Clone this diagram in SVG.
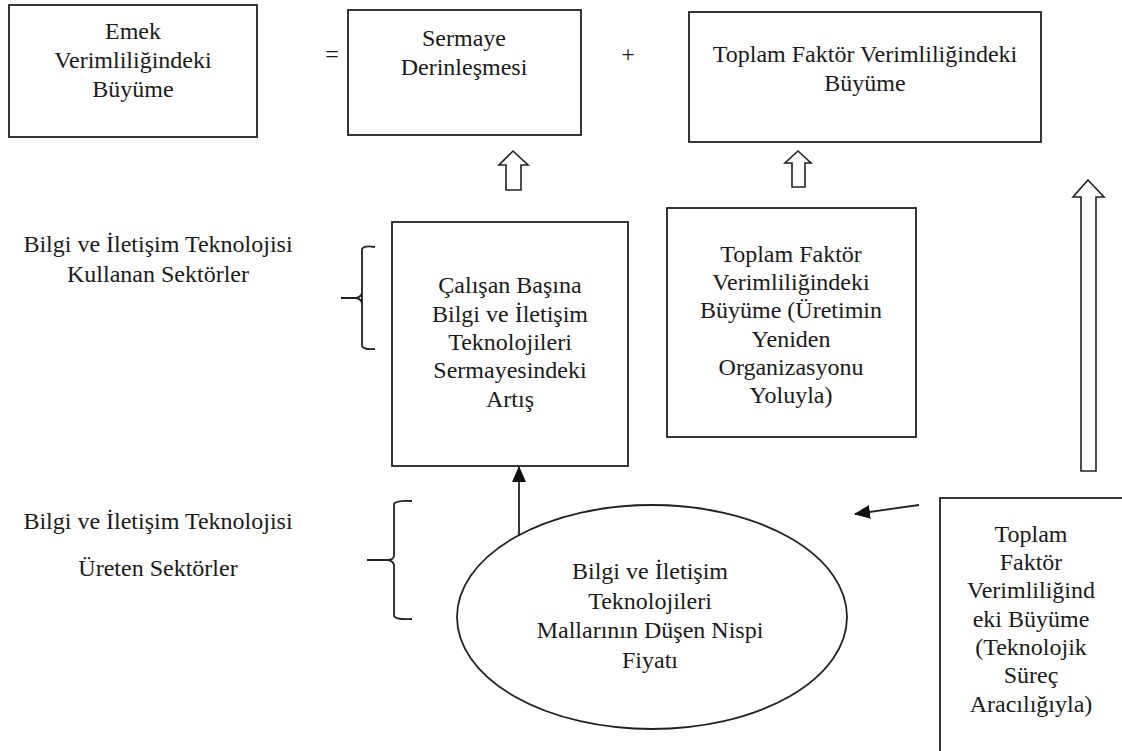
<svg xmlns="http://www.w3.org/2000/svg" width="1122" height="751" viewBox="0 0 1122 751">
<style>
.box{fill:#fff;stroke:#222;stroke-width:1.8}
.t{font-family:"Liberation Serif","Times New Roman",serif;font-size:24px;fill:#1a1a1a;text-anchor:middle}
.ln{fill:none;stroke:#222;stroke-width:1.8}
.hollow{fill:#fff;stroke:#222;stroke-width:1.6;stroke-linejoin:miter}
</style>
<defs>
<marker id="ah2" markerWidth="16" markerHeight="14" refX="15" refY="7" orient="auto" markerUnits="userSpaceOnUse">
<path d="M0,0 L16,7 L0,14 Z" fill="#111"/>
</marker>
</defs>
<rect width="1122" height="751" fill="#fff"/>

<g id="n-emek">
<rect class="box" x="9" y="5" width="248" height="132"/>
<text class="t" x="133" y="39">Emek</text>
<text class="t" x="133" y="68">Verimliliğindeki</text>
<text class="t" x="133" y="97">Büyüme</text>
</g>

<g id="eq"><text class="t" x="332" y="62">=</text></g>

<g id="n-sermaye">
<rect class="box" x="348" y="10" width="233" height="125"/>
<text class="t" x="464" y="46">Sermaye</text>
<text class="t" x="464" y="75">Derinleşmesi</text>
</g>

<g id="plus"><text class="t" x="628" y="62">+</text></g>

<g id="n-tfv">
<rect class="box" x="689" y="12" width="352" height="130"/>
<text class="t" x="865" y="62">Toplam Faktör Verimliliğindeki</text>
<text class="t" x="865" y="91">Büyüme</text>
</g>

<g id="n-kullanan">
<text class="t" x="158" y="252">Bilgi ve İletişim Teknolojisi</text>
<text class="t" x="158" y="282">Kullanan Sektörler</text>
<path class="ln" d="M375,247 Q364,245 362,249 L362,346 Q364,350 375,349 M341,298 L356,298 Q361,297 362,293 M356,298 Q361,299 362,303"/>
</g>

<g id="n-calisan">
<rect class="box" x="392" y="222" width="236" height="244"/>
<text class="t" x="510" y="293">Çalışan Başına</text>
<text class="t" x="510" y="322">Bilgi ve İletişim</text>
<text class="t" x="510" y="350">Teknolojileri</text>
<text class="t" x="510" y="378">Sermayesindeki</text>
<text class="t" x="510" y="407">Artış</text>
</g>

<g id="n-tfv-org">
<rect class="box" x="667" y="208" width="249" height="229"/>
<text class="t" x="791" y="262">Toplam Faktör</text>
<text class="t" x="791" y="290">Verimliliğindeki</text>
<text class="t" x="791" y="318">Büyüme (Üretimin</text>
<text class="t" x="791" y="347">Yeniden</text>
<text class="t" x="791" y="375">Organizasyonu</text>
<text class="t" x="791" y="403">Yoluyla)</text>
</g>

<g id="n-ureten">
<text class="t" x="158" y="529">Bilgi ve İletişim Teknolojisi</text>
<text class="t" x="158" y="576">Üreten Sektörler</text>
<path class="ln" d="M412,501 Q396,500 394,504 L394,556 Q393,560 388,560 L367,560 M388,560 Q393,561 394,565 L394,616 Q396,620 412,619"/>
</g>

<g id="n-fiyat">
<ellipse class="box" cx="652" cy="617" rx="195" ry="112"/>
<text class="t" x="650" y="579">Bilgi ve İletişim</text>
<text class="t" x="650" y="609">Teknolojileri</text>
<text class="t" x="650" y="638">Mallarının Düşen Nispi</text>
<text class="t" x="650" y="668">Fiyatı</text>
</g>

<g id="n-tfv-tek">
<rect class="box" x="940" y="498" width="200" height="300"/>
<text class="t" x="1031" y="542">Toplam</text>
<text class="t" x="1031" y="570">Faktör</text>
<text class="t" x="1031" y="598">Verimliliğind</text>
<text class="t" x="1031" y="627">eki Büyüme</text>
<text class="t" x="1031" y="655">(Teknolojik</text>
<text class="t" x="1031" y="683">Süreç</text>
<text class="t" x="1031" y="712">Aracılığıyla)</text>
</g>

<g id="connectors">
<polygon class="hollow" points="513,151 528,165 521,165 521,190 506,190 506,165 499,165"/>
<polygon class="hollow" points="798,151 811,163 805,163 805,187 792,187 792,163 785,163"/>
<polygon class="hollow" points="1088,180 1104,197 1096,197 1096,471 1081,471 1081,197 1073,197"/>
<line class="ln" x1="519" y1="536" x2="519" y2="467" marker-end="url(#ah2)"/>
<line class="ln" x1="919" y1="505" x2="855" y2="514" marker-end="url(#ah2)"/>
</g>
</svg>
